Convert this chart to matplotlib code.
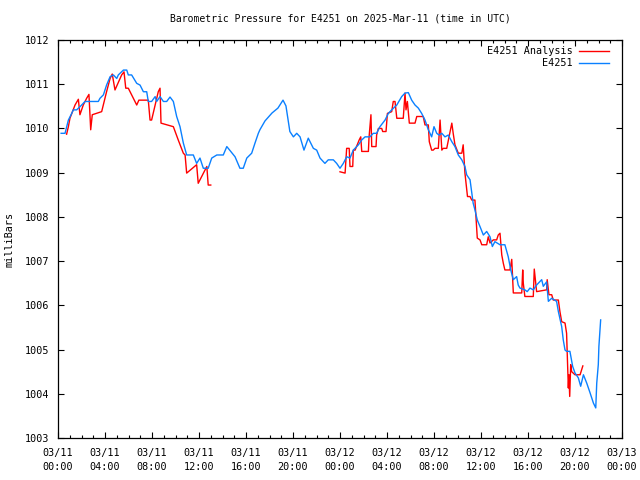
import numpy as np
import matplotlib
matplotlib.use("Agg")
import matplotlib.pyplot as plt
import matplotlib.dates as mdates
from matplotlib.ticker import MultipleLocator

plt.rcParams['font.family'] = ['DejaVu Sans Mono']

title = "Barometric Pressure for E4251 on 2025-Mar-11 (time in UTC)"
ylabel = "milliBars"
label_analysis = "E4251 Analysis"
label_obs = "E4251"
start = np.datetime64("2025-03-11T00:00")

# E4251 observations: hours since 03/11 00:00 UTC, pressure (mb)
obs_hours = [0.26, 0.60, 0.88, 1.17, 1.30, 1.59, 1.87, 2.30, 3.43, 3.57, 3.86, 4.14, 4.43, 4.71,
             5.00, 5.13, 5.56, 5.85, 5.98, 6.27, 6.70, 6.98, 7.26, 7.55, 7.69, 7.97, 8.26, 8.40,
             8.68, 8.96, 9.25, 9.53, 9.81, 10.10, 10.38, 10.66, 10.95, 11.51, 11.80, 12.09, 12.37,
             12.79, 13.08, 13.51, 14.07, 14.36, 15.06, 15.49, 15.77, 16.06, 16.49, 16.77, 17.05,
             17.19, 17.62, 18.21, 18.72, 19.15, 19.40, 19.74, 20.03, 20.31, 20.60, 20.94, 21.30,
             21.73, 22.02, 22.30, 22.72, 23.00, 23.43, 23.72, 24.00, 24.28, 24.57, 24.85, 25.13,
             25.56, 25.85, 26.13, 26.55, 26.83, 27.12, 27.40, 27.83, 28.11, 28.40, 28.83, 29.25,
             29.53, 29.81, 30.10, 30.38, 30.66, 30.95, 31.23, 31.51, 31.80, 32.00, 32.23, 32.43,
             32.66, 32.94, 33.22, 33.51, 33.79, 34.07, 34.36, 34.64, 34.78, 35.06, 35.21, 35.34,
             35.49, 35.69, 35.91, 36.20, 36.49, 36.77, 36.96, 37.19, 37.62, 38.04, 38.32, 38.53,
             38.75, 39.04, 39.17, 39.32, 39.74, 39.94, 40.17, 40.45, 40.74, 41.17, 41.30, 41.59,
             41.73, 42.02, 42.44, 42.58, 42.87, 43.00, 43.15, 43.29, 43.57, 43.80, 44.00, 44.28,
             44.49, 44.71, 45.00, 45.28, 45.56, 45.76, 45.85, 45.98, 46.04, 46.13, 46.19]
obs_mb = [1009.89, 1009.89, 1010.19, 1010.34, 1010.42, 1010.42, 1010.49, 1010.61, 1010.61, 1010.68,
          1010.76, 1010.98, 1011.17, 1011.21, 1011.13, 1011.21, 1011.32, 1011.32, 1011.21, 1011.21,
          1011.02, 1010.98, 1010.83, 1010.83, 1010.61, 1010.61, 1010.72, 1010.61, 1010.72, 1010.61,
          1010.61, 1010.71, 1010.61, 1010.27, 1010.04, 1009.67, 1009.40, 1009.40, 1009.21, 1009.33,
          1009.10, 1009.10, 1009.33, 1009.40, 1009.40, 1009.59, 1009.36, 1009.10, 1009.10, 1009.33,
          1009.44, 1009.67, 1009.89, 1009.97, 1010.17, 1010.35, 1010.46, 1010.64, 1010.51, 1009.93,
          1009.81, 1009.89, 1009.81, 1009.51, 1009.78, 1009.55, 1009.51, 1009.33, 1009.21, 1009.29,
          1009.29, 1009.21, 1009.10, 1009.21, 1009.36, 1009.33, 1009.51, 1009.63, 1009.74, 1009.81,
          1009.81, 1009.89, 1009.89, 1010.04, 1010.19, 1010.34, 1010.42, 1010.53, 1010.72, 1010.80,
          1010.81, 1010.64, 1010.53, 1010.46, 1010.34, 1010.19, 1009.97, 1009.81, 1010.04, 1009.89,
          1009.85, 1009.89, 1009.81, 1009.85, 1009.70, 1009.59, 1009.40, 1009.29, 1009.14, 1008.95,
          1008.84, 1008.54, 1008.31, 1008.16, 1007.93, 1007.78, 1007.59, 1007.67, 1007.55, 1007.33,
          1007.44, 1007.37, 1007.37, 1007.10, 1006.80, 1006.58, 1006.65, 1006.46, 1006.39, 1006.35,
          1006.31, 1006.39, 1006.35, 1006.46, 1006.58, 1006.43, 1006.53, 1006.09, 1006.16, 1006.09,
          1005.86, 1005.52, 1005.22, 1004.99, 1004.96, 1004.96, 1004.62, 1004.47, 1004.36, 1004.17,
          1004.43, 1004.24, 1004.02, 1003.79, 1003.68, 1004.24, 1004.66, 1005.07, 1005.49, 1005.67]

# E4251 Analysis: hours since 03/11 00:00 UTC, pressure (mb); NaN marks the data gap
ana_hours = [0.74, 0.88, 1.02, 1.45, 1.73, 1.87, 2.15, 2.44, 2.64, 2.78, 2.92, 3.72, 4.14, 4.43,
             4.62, 4.85, 5.42, 5.62, 5.76, 5.98, 6.70, 6.89, 7.69, 7.83, 7.97, 8.54, 8.68, 8.77,
             9.53, 9.81, 10.24, 10.66, 10.81, 10.95, 11.80, 11.94, 12.66, 12.79, 13.00, 18.50,
             24.00, 24.43, 24.57, 24.79, 24.85, 25.08, 25.13, 25.28, 25.64, 25.76, 25.85, 26.41,
             26.47, 26.64, 26.70, 27.06, 27.12, 27.26, 27.55, 27.63, 27.91, 28.03, 28.40, 28.54,
             28.68, 28.83, 29.39, 29.53, 29.62, 29.73, 29.90, 30.38, 30.53, 31.09, 31.23, 31.51,
             31.60, 31.80, 31.94, 32.09, 32.37, 32.51, 32.66, 32.79, 33.08, 33.51, 33.64, 33.79,
             34.07, 34.36, 34.49, 34.64, 34.78, 34.85, 35.06, 35.21, 35.49, 35.57, 35.69, 35.91,
             36.06, 36.49, 36.62, 36.77, 37.05, 37.34, 37.47, 37.62, 37.76, 37.90, 38.04, 38.47,
             38.61, 38.70, 38.75, 39.46, 39.55, 39.60, 39.74, 40.45, 40.54, 40.74, 41.59, 41.64,
             41.79, 42.02, 42.15, 42.58, 42.72, 42.87, 43.15, 43.29, 43.38, 43.43, 43.49, 43.55,
             43.63, 43.72, 44.00, 44.43, 44.66]
ana_mb = [1009.87, 1010.04, 1010.23, 1010.53, 1010.66, 1010.31, 1010.53, 1010.68, 1010.77, 1009.97,
          1010.31, 1010.38, 1010.83, 1011.13, 1011.23, 1010.87, 1011.21, 1011.28, 1010.91, 1010.91,
          1010.53, 1010.64, 1010.64, 1010.19, 1010.19, 1010.83, 1010.91, 1010.12, 1010.06, 1010.04,
          1009.74, 1009.44, 1009.40, 1008.99, 1009.18, 1008.76, 1009.14, 1008.72, 1008.72, np.nan,
          1009.02, 1008.99, 1009.55, 1009.55, 1009.14, 1009.14, 1009.51, 1009.51, 1009.74, 1009.81,
          1009.48, 1009.48, 1009.78, 1010.31, 1009.59, 1009.59, 1009.85, 1010.00, 1010.00, 1009.93,
          1009.93, 1010.34, 1010.38, 1010.61, 1010.61, 1010.23, 1010.23, 1010.80, 1010.42, 1010.61,
          1010.12, 1010.12, 1010.27, 1010.27, 1010.08, 1010.08, 1009.70, 1009.51, 1009.51, 1009.55,
          1009.55, 1010.19, 1009.51, 1009.55, 1009.55, 1010.12, 1009.89, 1009.63, 1009.44, 1009.44,
          1009.63, 1008.99, 1008.61, 1008.46, 1008.46, 1008.38, 1008.38, 1008.01, 1007.52, 1007.48,
          1007.37, 1007.37, 1007.55, 1007.41, 1007.48, 1007.48, 1007.59, 1007.63, 1007.14, 1006.95,
          1006.80, 1006.80, 1007.04, 1006.54, 1006.28, 1006.28, 1006.80, 1006.50, 1006.20, 1006.20,
          1006.82, 1006.31, 1006.35, 1006.58, 1006.24, 1006.24, 1006.12, 1006.12, 1005.86, 1005.63,
          1005.60, 1005.37, 1004.54, 1004.13, 1004.43, 1003.94, 1004.66, 1004.50, 1004.43, 1004.43,
          1004.63]

y_min, y_max = 1003, 1012
x_span_hours = 48


def to_time(hours):
    return start + (np.array(hours) * 60).round().astype("timedelta64[m]")


fig = plt.figure(figsize=(6.4, 4.8), dpi=100)
ax = fig.add_axes([58 / 640, 1 - 438 / 480, (622 - 58) / 640, (438 - 40) / 480])

ax.plot(to_time(ana_hours), ana_mb, color="#ff0000", lw=1.0, label=label_analysis)
ax.plot(to_time(obs_hours), obs_mb, color="#0a80ff", lw=1.0, label=label_obs)

ax.set_xlim(start, start + np.timedelta64(x_span_hours, "h"))
ax.set_ylim(y_min, y_max)
ax.xaxis.set_major_locator(mdates.HourLocator(byhour=range(0, 24, 4)))
ax.xaxis.set_minor_locator(mdates.HourLocator())
ax.xaxis.set_major_formatter(mdates.DateFormatter("%m/%d\n%H:%M"))
ax.yaxis.set_major_locator(MultipleLocator(1))

ax.tick_params(which="both", direction="in", top=True, right=True, labelsize=7.3,
               color="black", width=0.8)
ax.tick_params(which="major", length=4)
ax.tick_params(which="minor", length=2)
ax.tick_params(axis="x", pad=7)
ax.tick_params(axis="y", pad=6)
for lab in ax.get_xticklabels():
    lab.set_linespacing(1.55)
for s in ax.spines.values():
    s.set_linewidth(0.9)

ax.set_ylabel(ylabel, fontsize=7.3, labelpad=8)
ax.set_title(title, fontsize=7.0, pad=13)

leg = ax.legend(loc="upper right", bbox_to_anchor=(1 - 7 / 564, 1.0), frameon=False,
                markerfirst=False, fontsize=7.3, handlelength=3.0, handletextpad=0.6,
                labelspacing=0.2, borderaxespad=0.2)

fig.savefig("out.png", dpi=100)
